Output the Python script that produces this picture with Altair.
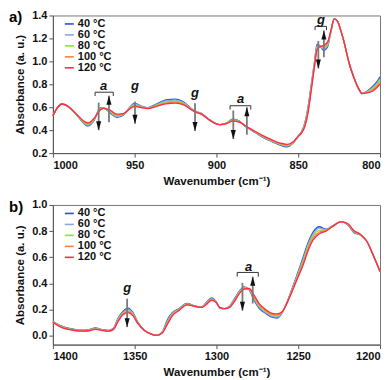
import altair as alt
import pandas as pd

FONT = "Liberation Sans"
TEMPS = ["40 °C", "60 °C", "80 °C", "100 °C", "120 °C"]
COLORS = ["#2a4fe0", "#8ea9de", "#86e62a", "#ff8040", "#ff2a50"]

# ---------------- panel a) 1000-800 cm-1 ----------------
W_A = [1000, 997, 994.5, 990, 985, 980, 978.5, 975, 971, 969, 965, 961, 957, 953, 950,
       946, 942, 937, 931, 925, 920, 915, 912, 909, 905, 901, 898, 894, 890, 886,
       882, 877, 871, 866, 861, 857, 853, 850, 848, 846, 844, 842, 840, 838.5, 836.5,
       834.5, 832, 830, 828, 826, 824, 822, 819, 816, 813, 811, 808, 805, 802, 800]
A40 = [0.525, 0.600, 0.630, 0.600, 0.525, 0.445, 0.437, 0.480, 0.595, 0.595, 0.550, 0.512, 0.530, 0.600, 0.635,
       0.610, 0.596, 0.625, 0.663, 0.671, 0.645, 0.585, 0.560, 0.545, 0.500, 0.463, 0.448, 0.462, 0.497, 0.480,
       0.429, 0.385, 0.332, 0.300, 0.270, 0.255, 0.290, 0.350, 0.385, 0.460, 0.600, 0.800, 1.000, 1.150, 1.130,
       1.095, 1.130, 1.260, 1.370, 1.350, 1.270, 1.170, 0.990, 0.860, 0.760, 0.718, 0.740, 0.775, 0.820, 0.865]
A60 = [0.525, 0.600, 0.630, 0.600, 0.526, 0.451, 0.444, 0.485, 0.590, 0.594, 0.556, 0.519, 0.534, 0.596, 0.628,
       0.607, 0.594, 0.620, 0.655, 0.662, 0.639, 0.582, 0.558, 0.543, 0.499, 0.462, 0.448, 0.461, 0.492, 0.477,
       0.430, 0.387, 0.336, 0.304, 0.274, 0.260, 0.292, 0.349, 0.382, 0.452, 0.587, 0.787, 0.990, 1.137, 1.130,
       1.106, 1.140, 1.262, 1.370, 1.350, 1.270, 1.170, 0.990, 0.860, 0.760, 0.718, 0.736, 0.765, 0.807, 0.849]
A80 = [0.525, 0.600, 0.629, 0.600, 0.527, 0.457, 0.450, 0.490, 0.585, 0.592, 0.562, 0.526, 0.538, 0.592, 0.621,
       0.603, 0.592, 0.615, 0.646, 0.653, 0.632, 0.580, 0.556, 0.541, 0.497, 0.461, 0.448, 0.459, 0.487, 0.475,
       0.432, 0.390, 0.340, 0.307, 0.279, 0.266, 0.295, 0.347, 0.380, 0.445, 0.575, 0.775, 0.980, 1.125, 1.130,
       1.117, 1.150, 1.265, 1.370, 1.350, 1.270, 1.170, 0.990, 0.860, 0.760, 0.719, 0.732, 0.756, 0.795, 0.832]
A100 = [0.525, 0.600, 0.628, 0.600, 0.529, 0.464, 0.457, 0.495, 0.580, 0.591, 0.569, 0.533, 0.541, 0.589, 0.614,
        0.600, 0.590, 0.610, 0.638, 0.644, 0.626, 0.577, 0.555, 0.540, 0.496, 0.461, 0.448, 0.458, 0.483, 0.472,
        0.434, 0.392, 0.344, 0.311, 0.283, 0.271, 0.297, 0.346, 0.377, 0.437, 0.562, 0.762, 0.970, 1.112, 1.130,
        1.129, 1.160, 1.267, 1.370, 1.350, 1.270, 1.170, 0.990, 0.860, 0.760, 0.720, 0.729, 0.746, 0.782, 0.816]
A120 = [0.525, 0.600, 0.628, 0.600, 0.530, 0.470, 0.464, 0.500, 0.575, 0.590, 0.575, 0.540, 0.545, 0.585, 0.607,
        0.597, 0.588, 0.605, 0.630, 0.635, 0.620, 0.575, 0.553, 0.538, 0.495, 0.460, 0.448, 0.457, 0.478, 0.470,
        0.435, 0.395, 0.348, 0.315, 0.288, 0.277, 0.300, 0.345, 0.375, 0.430, 0.550, 0.750, 0.960, 1.100, 1.130,
        1.140, 1.170, 1.270, 1.370, 1.350, 1.270, 1.170, 0.990, 0.860, 0.760, 0.720, 0.725, 0.737, 0.770, 0.800]

XTICKS_A = [1000, 950, 900, 850, 800]
YTICKS_A = [0.2, 0.4, 0.6, 0.8, 1.0, 1.2, 1.4]

ARR_A_X = [972, 965.7, 949.8, 913.1, 889.7, 881.4, 837.7, 834.3]
ARR_A_FROM = [0.64, 0.47, 0.649, 0.635, 0.572, 0.36, 1.178, 1.035]
ARR_A_TO = [0.40, 0.70, 0.456, 0.393, 0.324, 0.60, 0.938, 1.268]
BR_A_X1 = [974.2, 891.7, 839.7]
BR_A_X2 = [963.1, 879.0, 832.7]
BR_A_Y = [0.731, 0.613, 1.305]
BR_A_Y2 = [0.698, 0.580, 1.272]
LB_A_X = [969, 949.8, 913.1, 885.3, 836.1]
LB_A_Y = [0.753, 0.749, 0.691, 0.635, 1.328]
LB_A_T = ["a", "g", "g", "a", "g"]

# ---------------- panel b) 1400-1200 cm-1 ----------------
W_B = [1400, 1396, 1392, 1388, 1382, 1378, 1374, 1370, 1366, 1363, 1360, 1357, 1354, 1351, 1348,
       1344, 1340, 1336.5, 1333, 1330, 1327, 1323, 1318, 1313, 1309, 1306, 1303, 1300, 1298, 1295,
       1292, 1289, 1286, 1283, 1280, 1277, 1274, 1270, 1266, 1263, 1260, 1257, 1254, 1250, 1247,
       1244, 1241, 1237, 1233, 1229, 1224, 1220, 1216, 1212, 1208, 1204, 1200]
B40 = [0.107, 0.080, 0.060, 0.050, 0.040, 0.045, 0.058, 0.045, 0.038, 0.055, 0.135, 0.185, 0.209, 0.175, 0.100,
       0.040, 0.010, 0.000, 0.030, 0.120, 0.175, 0.205, 0.245, 0.225, 0.220, 0.255, 0.287, 0.255, 0.210, 0.205,
       0.225, 0.280, 0.340, 0.372, 0.350, 0.270, 0.210, 0.170, 0.140, 0.134, 0.170, 0.250, 0.350, 0.490, 0.600,
       0.710, 0.790, 0.833, 0.814, 0.840, 0.870, 0.850, 0.790, 0.770, 0.720, 0.610, 0.490]
B60 = [0.105, 0.077, 0.057, 0.047, 0.038, 0.043, 0.055, 0.043, 0.037, 0.052, 0.129, 0.179, 0.200, 0.169, 0.097,
       0.040, 0.010, 0.000, 0.027, 0.111, 0.169, 0.201, 0.242, 0.224, 0.219, 0.251, 0.283, 0.254, 0.211, 0.205,
       0.222, 0.275, 0.335, 0.368, 0.352, 0.280, 0.219, 0.177, 0.147, 0.142, 0.172, 0.249, 0.345, 0.480, 0.585,
       0.695, 0.775, 0.820, 0.810, 0.839, 0.870, 0.852, 0.794, 0.771, 0.720, 0.610, 0.490]
B80 = [0.104, 0.075, 0.055, 0.045, 0.037, 0.040, 0.052, 0.042, 0.035, 0.050, 0.122, 0.172, 0.192, 0.162, 0.095,
       0.039, 0.011, 0.000, 0.025, 0.102, 0.162, 0.197, 0.240, 0.223, 0.217, 0.247, 0.278, 0.252, 0.212, 0.205,
       0.220, 0.270, 0.330, 0.363, 0.355, 0.290, 0.227, 0.185, 0.155, 0.150, 0.175, 0.247, 0.340, 0.470, 0.570,
       0.680, 0.760, 0.806, 0.807, 0.837, 0.870, 0.855, 0.797, 0.772, 0.720, 0.610, 0.490]
B100 = [0.102, 0.072, 0.052, 0.042, 0.035, 0.038, 0.050, 0.040, 0.034, 0.047, 0.116, 0.166, 0.183, 0.156, 0.092,
        0.038, 0.011, 0.000, 0.022, 0.094, 0.156, 0.194, 0.237, 0.223, 0.216, 0.244, 0.274, 0.251, 0.214, 0.205,
        0.217, 0.265, 0.325, 0.359, 0.357, 0.300, 0.236, 0.192, 0.162, 0.157, 0.177, 0.246, 0.335, 0.460, 0.555,
        0.665, 0.745, 0.793, 0.804, 0.836, 0.870, 0.857, 0.801, 0.774, 0.720, 0.610, 0.490]
B120 = [0.100, 0.070, 0.050, 0.040, 0.033, 0.036, 0.047, 0.038, 0.033, 0.045, 0.110, 0.160, 0.175, 0.150, 0.090,
        0.038, 0.012, 0.000, 0.020, 0.085, 0.150, 0.190, 0.235, 0.222, 0.215, 0.240, 0.270, 0.250, 0.215, 0.205,
        0.215, 0.260, 0.320, 0.355, 0.360, 0.310, 0.245, 0.200, 0.170, 0.165, 0.180, 0.245, 0.330, 0.450, 0.540,
        0.650, 0.730, 0.780, 0.800, 0.835, 0.870, 0.860, 0.805, 0.775, 0.720, 0.610, 0.490]

XTICKS_B = [1400, 1350, 1300, 1250, 1200]
YTICKS_B = [0.0, 0.2, 0.4, 0.6, 0.8, 1.0]

ARR_B_X = [1354.6, 1284.1, 1277.8]
ARR_B_FROM = [0.282, 0.403, 0.245]
ARR_B_TO = [0.064, 0.190, 0.450]
BR_B_X1 = [1287.3]
BR_B_X2 = [1274.4]
BR_B_Y = [0.483]
BR_B_Y2 = [0.451]
LB_B_X = [1354.6, 1280.4]
LB_B_Y = [0.33, 0.497]
LB_B_T = ["g", "a"]

DOWN = "M-0.85,-3L0.85,-3L0,0Z"
UP = "M-0.85,3L0.85,3L0,0Z"


def panel(w, series, xdom, xticks, ydom, yticks, ax, afrom, ato,
          bx1, bx2, by, by2, lx, ly, lt, tag, width, height):
    rows = []
    for t, vals in zip(TEMPS, series):
        for wi, v in zip(w, vals):
            rows.append({"w": wi, "A": v, "T": t})
    df = pd.DataFrame(rows)

    xs = alt.Scale(domain=xdom, reverse=True, nice=False, zero=False)
    ys = alt.Scale(domain=ydom, nice=False, zero=False)
    xaxis = alt.Axis(values=xticks, format="d", title="Wavenumber (cm⁻¹)", grid=False, labelOverlap=False)
    yaxis = alt.Axis(values=yticks, format=".1f", title="Absorbance (a. u.)", grid=False, labelOverlap=False)
    X = alt.X("w:Q", scale=xs, axis=xaxis)
    Y = alt.Y("A:Q", scale=ys, axis=yaxis)
    X2f = alt.X("w2:Q", scale=xs, axis=xaxis)
    Y2f = alt.Y("A2:Q", scale=ys, axis=yaxis)

    lines = alt.Chart(df).mark_line(strokeWidth=1.3, interpolate="monotone").encode(
        x=X, y=Y,
        color=alt.Color("T:N", scale=alt.Scale(domain=TEMPS, range=COLORS),
                        legend=alt.Legend(title=None, orient="none", legendX=11, legendY=3,
                                          symbolType="stroke", symbolSize=81, symbolStrokeWidth=1.6,
                                          labelFont=FONT, labelFontSize=11, labelFontWeight="bold",
                                          labelColor="#111", rowPadding=-1, labelOffset=3, padding=0)),
    )

    arr = pd.DataFrame({"w": ax, "A": afrom, "A2": ato})
    arr["dir"] = ["down" if b < a else "up" for a, b in zip(afrom, ato)]
    shafts = alt.Chart(arr).mark_rule(color="#7a7a7a", strokeWidth=1.8).encode(
        x=X, y=Y, y2="A2:Q")
    heads_dn = alt.Chart(arr).transform_filter(alt.datum.dir == "down").mark_point(
        shape=DOWN, size=36, filled=True, color="#111", opacity=1).encode(x=X, y=Y2f)
    heads_up = alt.Chart(arr).transform_filter(alt.datum.dir == "up").mark_point(
        shape=UP, size=36, filled=True, color="#111", opacity=1).encode(x=X, y=Y2f)

    br = pd.DataFrame({"w": bx1, "w2": bx2, "A": by, "A2": by2})
    br_h = alt.Chart(br).mark_rule(color="#333", strokeWidth=1).encode(x=X, x2="w2:Q", y=Y)
    br_l = alt.Chart(br).mark_rule(color="#333", strokeWidth=1).encode(x=X, y=Y, y2="A2:Q")
    br_r = alt.Chart(br).mark_rule(color="#333", strokeWidth=1).encode(x=X2f, y=Y, y2="A2:Q")

    lb = pd.DataFrame({"w": lx, "A": ly, "t": lt})
    labels = alt.Chart(lb).mark_text(font=FONT, fontSize=13, fontWeight="bold", fontStyle="italic",
                                     baseline="alphabetic", align="center", color="#111").encode(
        x=X, y=Y, text="t:N")

    tagc = alt.Chart(pd.DataFrame({"t": [tag]})).mark_text(
        font=FONT, fontSize=15, fontWeight="bold", align="left", baseline="top", color="#000").encode(
        x=alt.value(-44), y=alt.value(-5), text="t:N")

    return alt.layer(lines, shafts, heads_dn, heads_up, br_h, br_l, br_r, labels, tagc).properties(
        width=width, height=height)


pa = panel(W_A, [A40, A60, A80, A100, A120], [800, 1000], XTICKS_A, [0.2, 1.4], YTICKS_A,
           ARR_A_X, ARR_A_FROM, ARR_A_TO, BR_A_X1, BR_A_X2, BR_A_Y, BR_A_Y2,
           LB_A_X, LB_A_Y, LB_A_T, "a)", 328, 138)
pb = panel(W_B, [B40, B60, B80, B100, B120], [1200, 1400], XTICKS_B, [-0.07, 1.0], YTICKS_B,
           ARR_B_X, ARR_B_FROM, ARR_B_TO, BR_B_X1, BR_B_X2, BR_B_Y, BR_B_Y2,
           LB_B_X, LB_B_Y, LB_B_T, "b)", 328, 140)

chart = alt.vconcat(pa, pb, spacing=11).resolve_scale(color="independent").resolve_legend(
    color="independent").properties(padding=0).configure_view(
    stroke="#777", strokeWidth=1).configure_axis(
    domainColor="#555", tickColor="#555", tickSize=4, labelColor="#111", titleColor="#111",
    labelFont=FONT, titleFont=FONT, labelFontSize=11, labelFontWeight="bold",
    titleFontSize=11.5, titleFontWeight="bold", labelPadding=2).configure_axisY(
    titlePadding=6).configure_axisX(titlePadding=5)

chart.save("out.html", embed_options={"renderer": "svg", "actions": False})
